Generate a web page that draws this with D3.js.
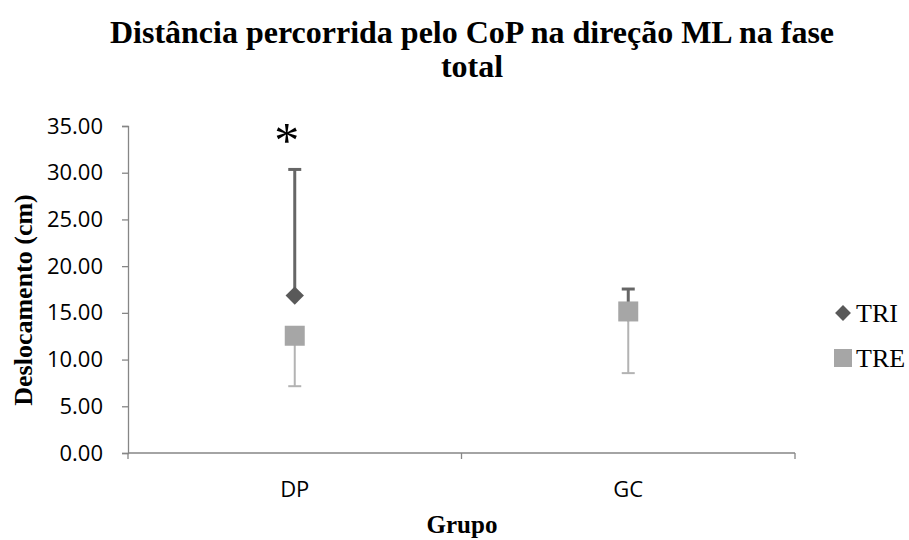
<!DOCTYPE html>
<html>
<head>
<meta charset="utf-8">
<script src="https://cdn.jsdelivr.net/npm/d3@7"></script>
<style>
  html, body { margin: 0; padding: 0; background: #fff; }
  svg { display: block; }
</style>
</head>
<body>
<svg id="chart" width="909" height="540"></svg>
<script>
// Groups and series values (cm)
const groups = ["DP", "GC"];
const seriesNames = ["TRI", "TRE"];
const triMean = [16.85, 15.0];
const triErrUp = [30.35, 17.55];
const treMean = [12.55, 15.15];
const treErrDown = [7.15, 8.55];
const yTicks = [0, 5, 10, 15, 20, 25, 30, 35];

const svg = d3.select("#chart");
const m = { left: 128, right: 795, top: 126, bottom: 453 };

const x = d3.scaleBand().domain(groups).range([m.left, m.right]).paddingInner(0).paddingOuter(0);
const y = d3.scaleLinear().domain([0, 35]).range([m.bottom, m.top]);

const axisColor = "#868686";
const tickFont = "'Open Sans', 'Noto Sans', sans-serif";
const serif = "'Liberation Serif', 'Times New Roman', serif";

// Title
const title = svg.append("text")
  .attr("font-family", serif).attr("font-weight", "bold")
  .attr("font-size", 32).attr("text-anchor", "middle").attr("fill", "#000");
title.append("tspan").attr("x", 472).attr("y", 43).text("Distância percorrida pelo CoP na direção ML na fase");
title.append("tspan").attr("x", 472).attr("y", 77).text("total");

// Y axis
const yAxis = svg.append("g").attr("transform", `translate(${m.left},0)`)
  .call(d3.axisLeft(y).tickValues(yTicks).tickFormat(d3.format(".2f")).tickSize(6).tickPadding(19));
yAxis.select(".domain").attr("stroke", axisColor).attr("stroke-width", 1.3);
yAxis.selectAll(".tick line").attr("stroke", axisColor).attr("stroke-width", 1.3);
yAxis.selectAll(".tick text").attr("font-family", tickFont).attr("font-size", 22).attr("fill", "#000");

// X axis (category boundaries carry the ticks)
const xAxisG = svg.append("g").attr("transform", `translate(0,${m.bottom})`);
xAxisG.append("line").attr("x1", m.left).attr("x2", m.right).attr("y1", 0).attr("y2", 0)
  .attr("stroke", axisColor).attr("stroke-width", 1.3);
const bounds = groups.map(g => x(g)).concat([x(groups[groups.length - 1]) + x.bandwidth()]);
xAxisG.selectAll("line.tk").data(bounds).join("line").attr("class", "tk")
  .attr("x1", d => d).attr("x2", d => d).attr("y1", 0).attr("y2", 6)
  .attr("stroke", axisColor).attr("stroke-width", 1.3);
xAxisG.selectAll("text.cat").data(groups).join("text").attr("class", "cat")
  .attr("x", d => x(d) + x.bandwidth() / 2).attr("y", 44)
  .attr("text-anchor", "middle").attr("font-family", tickFont).attr("font-size", 22)
  .attr("fill", "#000").text(d => d);

// Axis titles
svg.append("text").attr("x", 462).attr("y", 533).attr("text-anchor", "middle")
  .attr("font-family", serif).attr("font-weight", "bold").attr("font-size", 25).text("Grupo");
svg.append("text").attr("transform", `translate(32,300) rotate(-90)`)
  .attr("text-anchor", "middle").attr("font-family", serif).attr("font-weight", "bold")
  .attr("font-size", 26).text("Deslocamento (cm)");

const cx = g => x(g) + x.bandwidth() / 2;
const triColor = "#595959", triBar = "#666666";
const treColor = "#a6a6a6", treBar = "#b3b3b3";
const cap = 6.5;

// TRI error bars (upward)
const triG = svg.append("g");
groups.forEach((g, i) => {
  triG.append("line").attr("x1", cx(g)).attr("x2", cx(g)).attr("y1", y(triMean[i])).attr("y2", y(triErrUp[i]))
    .attr("stroke", triBar).attr("stroke-width", 3);
  triG.append("line").attr("x1", cx(g) - cap).attr("x2", cx(g) + cap).attr("y1", y(triErrUp[i])).attr("y2", y(triErrUp[i]))
    .attr("stroke", triBar).attr("stroke-width", 3);
});
triG.selectAll("path").data(groups).join("path")
  .attr("d", d3.symbol().type(d3.symbolDiamond2).size(215)())
  .attr("transform", (d, i) => `translate(${cx(d)},${y(triMean[i])})`)
  .attr("fill", triColor);

// TRE error bars (downward)
const treG = svg.append("g");
groups.forEach((g, i) => {
  treG.append("line").attr("x1", cx(g)).attr("x2", cx(g)).attr("y1", y(treMean[i])).attr("y2", y(treErrDown[i]))
    .attr("stroke", treBar).attr("stroke-width", 2);
  treG.append("line").attr("x1", cx(g) - cap).attr("x2", cx(g) + cap).attr("y1", y(treErrDown[i])).attr("y2", y(treErrDown[i]))
    .attr("stroke", treBar).attr("stroke-width", 2);
});
const sq = 20;
treG.selectAll("rect").data(groups).join("rect")
  .attr("x", d => cx(d) - sq / 2).attr("y", (d, i) => y(treMean[i]) - sq / 2)
  .attr("width", sq).attr("height", sq).attr("fill", treColor);

// Significance marker above DP
svg.append("text").attr("x", cx("DP") - 8).attr("y", 157).attr("text-anchor", "middle")
  .attr("font-family", serif).attr("font-size", 50).attr("fill", "#000").text("*");

// Legend
const leg = svg.append("g");
leg.append("path").attr("d", d3.symbol().type(d3.symbolDiamond2).size(160)())
  .attr("transform", "translate(843,313)").attr("fill", triColor);
leg.append("text").attr("x", 856).attr("y", 322).attr("font-family", serif).attr("font-size", 26).text(seriesNames[0]);
leg.append("rect").attr("x", 834).attr("y", 349).attr("width", 18).attr("height", 18).attr("fill", treColor);
leg.append("text").attr("x", 856).attr("y", 367).attr("font-family", serif).attr("font-size", 26).text(seriesNames[1]);
</script>
</body>
</html>
